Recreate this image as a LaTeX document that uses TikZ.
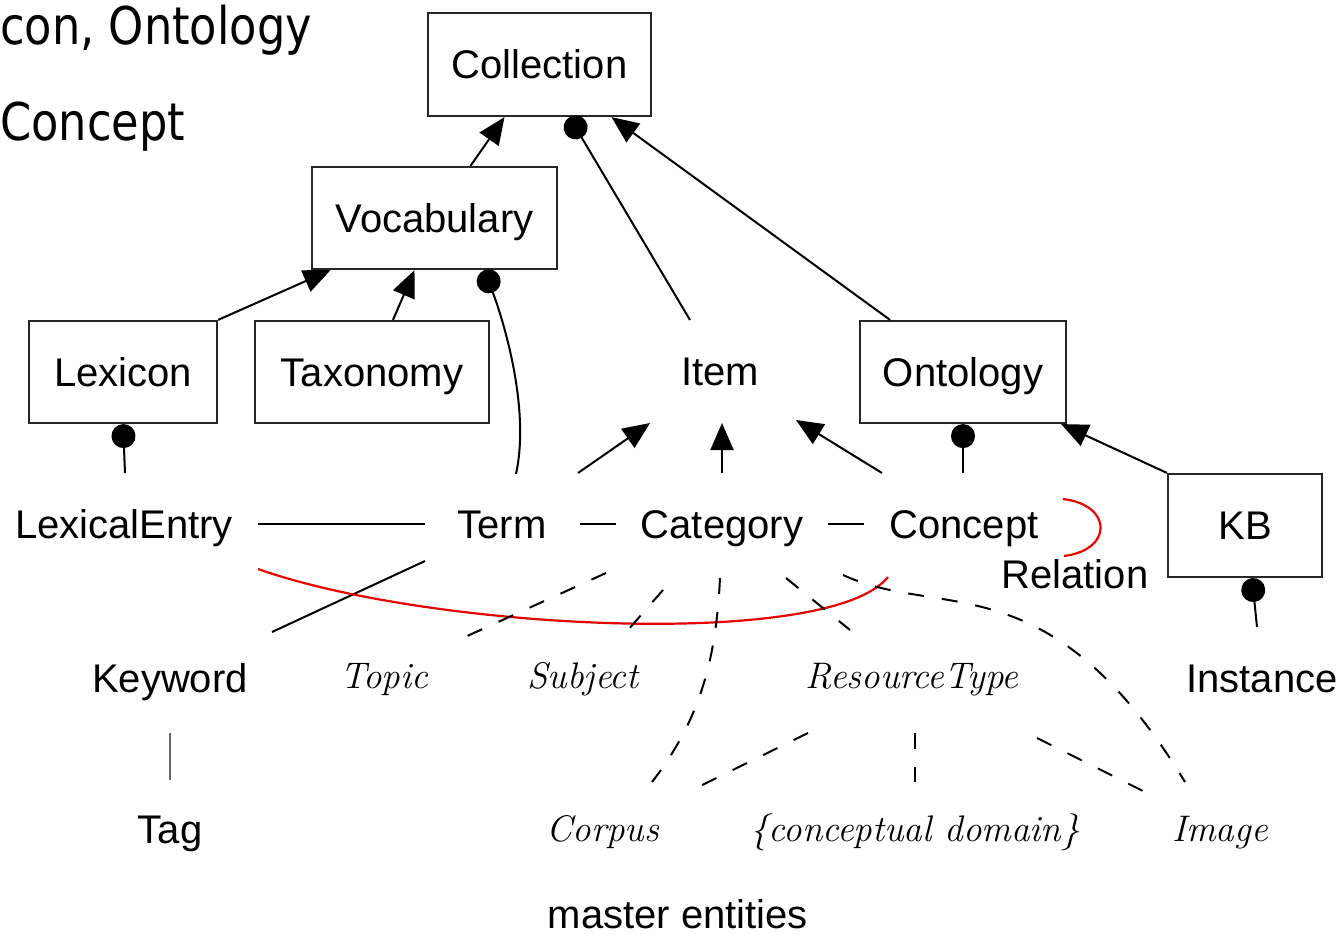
\documentclass[tikz,border=0pt]{standalone}
\usepackage{fontspec}
\usepackage{graphicx}
\usetikzlibrary{arrows.meta}
\newfontfamily\labelfont{Liberation Sans}
\newfontfamily\notefont{DejaVu Sans}

\tikzset{
  box/.style={draw=black!85, line width=2.2pt, rectangle, inner sep=0pt,
    font=\labelfont\fontsize{40}{48}\selectfont, text height=28.6pt, text depth=0pt},
  lbl/.style={inner sep=0pt, font=\labelfont\fontsize{40}{48}\selectfont,
    text height=28.6pt, text depth=0pt},
  ital/.style={inner sep=0pt, font=\itshape\fontsize{37}{44}\selectfont,
    text height=25.3pt, text depth=0pt},
  note/.style={inner sep=0pt, anchor=base west,
    font=\notefont\fontsize{52}{60}\selectfont},
  link/.style={line width=2pt, draw=black},
  isa/.style={link, -{Triangle[length=27pt,width=23pt]}},
  part/.style={link, -{Circle[length=24pt]}},
  assoc/.style={line width=2pt, draw=black, dash pattern=on 16pt off 18pt},
  rel/.style={line width=2.2pt, draw=red!90!black},
}

\begin{document}
\begin{tikzpicture}[x=1pt,y=-1pt]
\useasboundingbox[fill=white] (0,0) rectangle (1344,934);

% slide text behind the diagram
\node[note] (n1) at (0,45) {\scalebox{0.86}[1]{con, Ontology}};
\node[note] (n2) at (0,140) {\scalebox{0.86}[1]{Concept}};

% boxed classes
\node[box, minimum width=223pt, minimum height=103pt] (coll)  at (539.5,64.5) {Collection};
\node[box, minimum width=245pt, minimum height=102pt] (vocab) at (434.5,218) {Vocabulary};
\node[box, minimum width=188pt, minimum height=102pt] (lex)   at (123,372) {Lexicon};
\node[box, minimum width=234pt, minimum height=102pt] (tax)   at (372,372) {Taxonomy};
\node[box, minimum width=206pt, minimum height=102pt] (onto)  at (963,372) {Ontology};
\node[box, minimum width=154pt, minimum height=103pt] (kb)    at (1245,525.5) {KB};

% plain labels
\node[lbl] (item)   at (720,371) {Item};
\node[lbl] (lexent) at (124,524) {LexicalEntry};
\node[lbl] (term)   at (502,524) {Term};
\node[lbl] (cat)    at (722,524) {Category};
\node[lbl] (conc)   at (964,524) {Concept};
\node[lbl] (rel)    at (1075,574) {Relation};
\node[lbl] (kw)     at (170,678) {Keyword};
\node[lbl] (tag)    at (170,829) {Tag};
\node[lbl] (inst)   at (1262,678) {Instance};
\node[lbl] (master) at (678,914) {master entities};

% resource descriptors
\node[ital] (topic)  at (384,676) {Topic};
\node[ital] (subj)   at (583,676) {Subject};
\node[ital] (rtype)  at (912,676) {ResourceType};
\node[ital] (corpus) at (603,829) {Corpus};
\node[ital] (cdom)   at (915,829) {\{conceptual domain\}};
\node[ital] (image)  at (1220,829) {Image};

% generalisations
\draw[isa] ([xshift=36pt]vocab.north) -- ([xshift=-35pt]coll.south);
\draw[isa] ([xshift=-73pt]onto.north) -- ([xshift=72pt]coll.south);
\draw[isa] (lex.north east) -- ([xshift=-104pt]vocab.south);
\draw[isa] ([xshift=21pt]tax.north) -- ([xshift=-20pt]vocab.south);
\draw[isa] (kb.north west) -- ([xshift=-6pt]onto.south east);
\draw[isa] ([shift={(76,-51)}]term.center) -- ([shift={(-70,52)}]item.center);
\draw[isa] ([shift={(0,-51)}]cat.center) -- ([shift={(2,52)}]item.center);
\draw[isa] ([shift={(-82,-51)}]conc.center) -- ([shift={(76,49)}]item.center);

% memberships
\draw[part] ([shift={(-30,-51)}]item.center) -- ([xshift=30pt]coll.south);
\draw[part] ([shift={(14,-50)}]term.center) .. controls (530,410) and (505,325) .. ([xshift=50pt]vocab.south);
\draw[part] ([shift={(1,-51)}]lexent.center) -- (lex.south);
\draw[part] ([shift={(-1,-51)}]conc.center) -- (onto.south);
\draw[part] ([shift={(-5,-51)}]inst.center) -- ([xshift=7pt]kb.south);

% equivalences along the entry row
\draw[link] ([shift={(134,0)}]lexent.center) -- ([shift={(-77,0)}]term.center);
\draw[link] ([shift={(78,0)}]term.center) -- ([shift={(-106,0)}]cat.center);
\draw[link] ([shift={(106,0)}]cat.center) -- ([shift={(-100,0)}]conc.center);
\draw[link] ([shift={(102,-46)}]kw.center) -- ([shift={(-77,37)}]term.center);
\draw[line width=2pt, draw=black!60] ([shift={(0,55)}]kw.center) -- ([shift={(0,-49)}]tag.center);

% relations
\draw[rel] ([shift={(134,45)}]lexent.center) .. controls (430,630) and (830,650) .. ([shift={(-76,53)}]conc.center);
\draw[rel] ([shift={(99,-25)}]conc.center) .. controls (1113,505) and (1113,550) .. ([shift={(100,32)}]conc.center);

% descriptor links
\draw[assoc] ([shift={(-116,49)}]cat.center) -- ([shift={(81,-39)}]topic.center);
\draw[assoc] ([shift={(-59,66)}]cat.center) -- ([shift={(45,-46)}]subj.center);
\draw[assoc] ([shift={(-2,54)}]cat.center) .. controls (716,660) and (700,720) .. ([shift={(49,-47)}]corpus.center);
\draw[assoc] ([shift={(64,54)}]cat.center) -- ([shift={(-62,-46)}]rtype.center);
\draw[assoc] ([shift={(121,51)}]cat.center) .. controls (940,620) and (1050,560) .. ([shift={(-35,-47)}]image.center);
\draw[assoc] ([shift={(-104,57)}]rtype.center) -- ([shift={(83,-36)}]corpus.center);
\draw[assoc] ([shift={(3,57)}]rtype.center) -- ([shift={(0,-47)}]cdom.center);
\draw[assoc] ([shift={(125,62)}]rtype.center) -- ([shift={(-75,-37)}]image.center);
\end{tikzpicture}
\end{document}
